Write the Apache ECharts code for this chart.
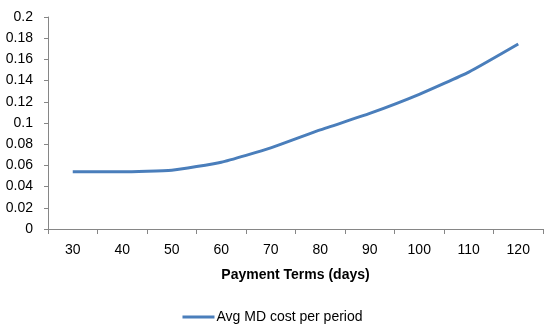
<!DOCTYPE html>
<html><head><meta charset="utf-8">
<script src="https://cdn.jsdelivr.net/npm/echarts@6/dist/echarts.min.js"></script>
<style>html,body{margin:0;padding:0;background:#fff}#c{width:545px;height:328px}</style>
</head><body><div id="c"></div>
<script>
var categories = ['30','40','50','60','70','80','90','100','110','120'];
var avgMdCost = [0.054, 0.054, 0.0555, 0.063, 0.0765, 0.0935, 0.109, 0.127, 0.148, 0.1745];
var seriesName = 'Avg MD cost per period';
var xAxisTitle = 'Payment Terms (days)';

var chart = echarts.init(document.getElementById('c'));
var font = 'Liberation Sans, Arial, sans-serif';
chart.setOption({
  animation: false,
  grid: {left: 48, right: 2, top: 17, bottom: 99, containLabel: false},
  xAxis: {
    type: 'category', data: categories, boundaryGap: true,
    name: xAxisTitle, nameLocation: 'middle', nameGap: 39,
    nameTextStyle: {fontFamily: font, fontSize: 14, fontWeight: 'bold', color: '#000', verticalAlign: 'top', lineHeight: 14},
    axisLine: {lineStyle: {color: '#868686', width: 1}},
    axisTick: {show: true, length: 5, lineStyle: {color: '#868686'}},
    axisLabel: {fontFamily: font, fontSize: 14, color: '#000', margin: 14},
    splitLine: {show: false}
  },
  yAxis: {
    type: 'value', min: 0, max: 0.2, interval: 0.02,
    axisLine: {show: true, lineStyle: {color: '#868686', width: 1}},
    axisTick: {show: true, length: 4, lineStyle: {color: '#868686'}},
    axisLabel: {fontFamily: font, fontSize: 14, color: '#000', margin: 15,
      formatter: function(v){ return String(+v.toFixed(2)); }},
    splitLine: {show: false}
  },
  legend: {
    bottom: 4, padding: 0, left: 'center', itemWidth: 32, itemHeight: 3, itemGap: 10,
    icon: 'rect',
    textStyle: {fontFamily: font, fontSize: 14, color: '#000', padding: [0,0,0,-3]},
    data: [{name: seriesName}]
  },
  series: [{
    name: seriesName, type: 'line', data: avgMdCost, smooth: 0.15,
    showSymbol: false, symbol: 'none',
    lineStyle: {color: '#4a7ebb', width: 3},
    itemStyle: {color: '#4a7ebb'}
  }]
});
</script></body></html>
